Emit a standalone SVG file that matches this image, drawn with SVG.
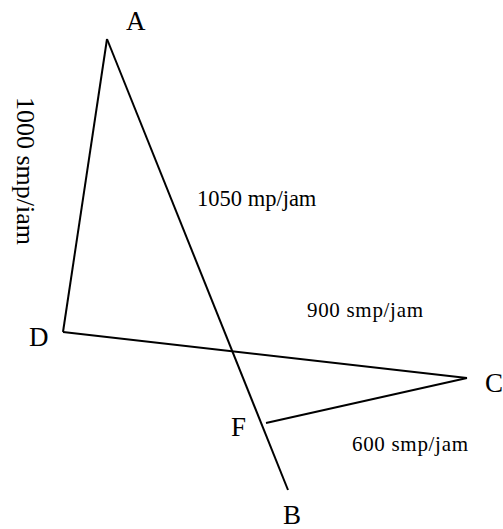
<svg xmlns="http://www.w3.org/2000/svg" width="503" height="529" viewBox="0 0 503 529">
<style>
.ln{stroke:#000;stroke-width:2;fill:none;stroke-linecap:butt}
.lbl{font-family:"Liberation Serif","Times New Roman",serif;font-size:27px;fill:#000}
.cap{font-family:"Liberation Serif","Times New Roman",serif;fill:#000}
</style>
<rect width="503" height="529" fill="#fff"/>
<g id="connectors">
<line class="ln" x1="107" y1="39" x2="63" y2="332"/>
<line class="ln" x1="107" y1="39" x2="288" y2="490"/>
<line class="ln" x1="63" y1="332" x2="467" y2="378"/>
<line class="ln" x1="467" y1="378" x2="266" y2="423"/>
</g>
<g id="A"><text class="lbl" x="126" y="30">A</text></g>
<g id="D"><text class="lbl" x="29" y="346">D</text></g>
<g id="C"><text class="lbl" x="485" y="392">C</text></g>
<g id="F"><text class="lbl" x="231" y="436">F</text></g>
<g id="B"><text class="lbl" x="283" y="524">B</text></g>
<g id="labels">
<text class="cap" font-size="26" transform="translate(17,97) rotate(90)">1000 smp/iam</text>
<text class="cap" font-size="22.5" x="197" y="206">1050 mp/jam</text>
<text class="cap" font-size="21" x="307" y="317" textLength="116" lengthAdjust="spacing">900 smp/jam</text>
<text class="cap" font-size="21" x="352" y="451" textLength="116" lengthAdjust="spacing">600 smp/jam</text>
</g>
</svg>
